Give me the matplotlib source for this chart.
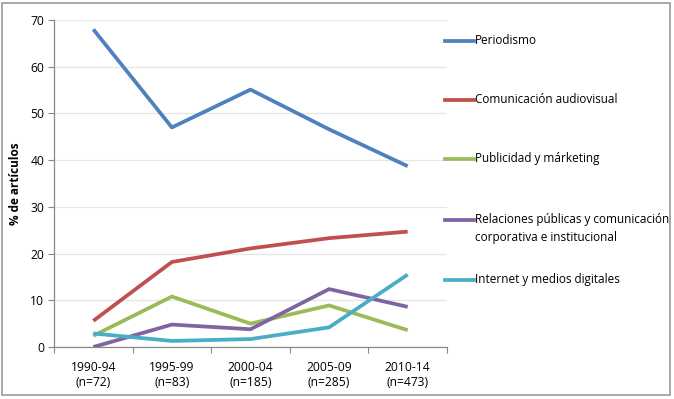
import matplotlib.pyplot as plt
from matplotlib.lines import Line2D
from matplotlib.patches import Rectangle

# Data
periodos = ["1990-94\n(n=72)", "1995-99\n(n=83)", "2000-04\n(n=185)", "2005-09\n(n=285)", "2010-14\n(n=473)"]
periodismo = [68.0, 47.0, 55.1, 46.6, 38.7]
audiovisual = [5.6, 18.2, 21.1, 23.3, 24.7]
publicidad = [2.4, 10.8, 5.0, 8.9, 3.6]
relaciones = [0.0, 4.8, 3.8, 12.4, 8.6]
internet = [2.9, 1.3, 1.7, 4.2, 15.5]

series = [
    ("Periodismo", periodismo, "#4F81BD"),
    ("Comunicación audiovisual", audiovisual, "#C0504D"),
    ("Publicidad y márketing", publicidad, "#9BBB59"),
    ("Relaciones públicas y comunicación\ncorporativa e institucional", relaciones, "#8064A2"),
    ("Internet y medios digitales", internet, "#4BACC6"),
]

plt.rcParams["font.family"] = ["Open Sans", "DejaVu Sans"]

W, H = 674, 399
fig = plt.figure(figsize=(W / 100, H / 100), dpi=100)
ax = fig.add_axes([54 / W, 1 - 347 / H, (447 - 54) / W, (347 - 20) / H])

x = list(range(len(periodos)))
for name, vals, col in series:
    ax.plot(x, vals, color=col, linewidth=2.7, solid_capstyle="butt", zorder=3)

ax.set_xlim(-0.5, len(periodos) - 0.5)
ax.set_ylim(0, 70)
ax.set_yticks(range(0, 71, 10))
ax.yaxis.grid(True, color="#E6E6E6", linewidth=0.9)
ax.set_axisbelow(True)

# category ticks at boundaries, labels centred
ax.set_xticks([i - 0.5 for i in range(len(periodos) + 1)])
ax.set_xticklabels([])
ax.set_xticks(x, minor=True)
ax.set_xticklabels(periodos, minor=True, fontsize=8.7, linespacing=1.2)
ax.tick_params(axis="x", which="minor", length=0, pad=10)
ax.tick_params(axis="x", which="major", length=4, color="#888888", direction="out")
ax.tick_params(axis="y", length=4, color="#888888", labelsize=8.7, pad=3)

for s in ["top", "right"]:
    ax.spines[s].set_visible(False)
for s in ["left", "bottom"]:
    ax.spines[s].set_color("#888888")
    ax.spines[s].set_linewidth(0.9)

ax.set_ylabel("% de artículos", fontsize=8.5, fontweight="bold", labelpad=6)

# legend drawn at the right
leg_y = [41, 100, 159, 220, 280]
for (name, vals, col), yy in zip(series, leg_y):
    fy = 1 - yy / H
    fig.add_artist(Line2D([445 / W, 474 / W], [fy, fy], color=col, linewidth=2.7))
    fig.text(475 / W, fy + 7 / H, name, fontsize=8.5, va="top", ha="left", linespacing=1.45)

# outer frame
fig.add_artist(Rectangle((2 / W, 4 / H), (670 - 2) / W, (396 - 4) / H, transform=fig.transFigure,
                         fill=False, edgecolor="#999999", linewidth=1.2))

fig.savefig("out.png", dpi=100)
